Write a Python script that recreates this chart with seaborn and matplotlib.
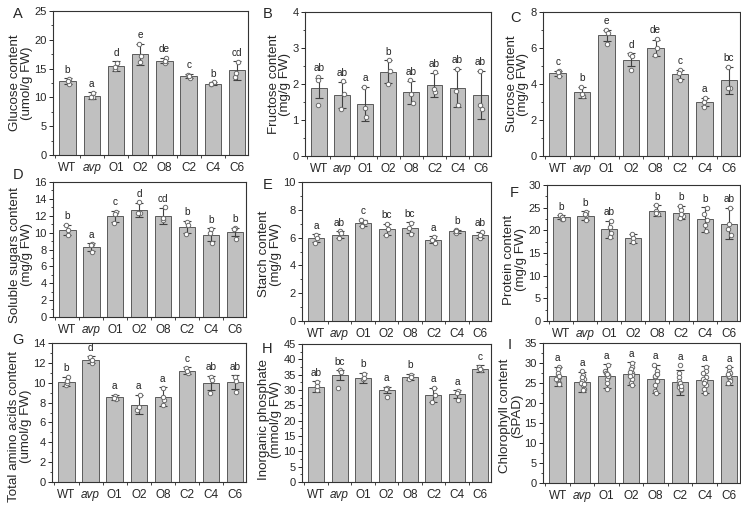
import matplotlib
matplotlib.use("Agg")
import matplotlib.pyplot as plt
import numpy as np
import pandas as pd
import seaborn as sns
from matplotlib.ticker import AutoMinorLocator, MultipleLocator

groups = ["WT", "avp", "O1", "O2", "O8", "C2", "C4", "C6"]

# panel A - glucose
glu_mean = [12.8, 10.3, 15.4, 17.5, 16.4, 13.7, 12.4, 14.7]
glu_sd = [0.5, 0.6, 0.9, 1.8, 0.5, 0.35, 0.2, 1.6]
glu_pts = [[13.2, 12.3, 12.9], [10.8, 10.0, 10.1], [16.0, 14.9, 15.3], [19.2, 16.2, 17.2],
           [16.9, 15.9, 16.4], [13.9, 13.4, 13.7], [12.6, 12.3, 12.3], [16.2, 13.6, 14.2]]
glu_sig = ["b", "a", "d", "e", "de", "c", "b", "cd"]

# panel B - fructose
fru_mean = [1.9, 1.7, 1.45, 2.34, 1.77, 1.98, 1.88, 1.7]
fru_sd = [0.28, 0.36, 0.47, 0.32, 0.32, 0.33, 0.53, 0.66]
fru_pts = [[2.2, 1.42, 2.1], [1.72, 1.3, 2.07], [1.08, 1.34, 1.93], [2.66, 2.37, 2.0],
           [1.72, 1.48, 2.1], [1.78, 1.85, 2.32], [1.8, 1.42, 2.42], [1.3, 1.42, 2.37]]
fru_sig = ["ab", "ab", "a", "b", "ab", "ab", "ab", "ab"]

# panel C - sucrose
suc_mean = [4.6, 3.55, 6.7, 5.35, 6.0, 4.55, 3.0, 4.2]
suc_sd = [0.15, 0.3, 0.3, 0.35, 0.45, 0.25, 0.2, 0.75]
suc_pts = [[4.7, 4.45, 4.65], [3.85, 3.35, 3.45], [7.0, 6.85, 6.2], [5.65, 5.55, 4.8],
           [6.5, 6.0, 5.6], [4.8, 4.6, 4.25], [3.25, 3.0, 2.7], [4.95, 3.8, 3.8]]
suc_sig = ["c", "b", "e", "d", "de", "c", "a", "bc"]

# panel D - soluble sugars
sol_mean = [10.35, 8.3, 11.95, 12.7, 12.0, 10.7, 9.75, 10.1]
sol_sd = [0.6, 0.45, 0.65, 0.85, 0.95, 0.7, 0.75, 0.5]
sol_pts = [[10.9, 9.7, 10.3], [8.7, 7.7, 8.5], [12.4, 11.2, 12.2], [13.6, 12.3, 12.3],
           [13.0, 11.5, 11.7], [11.3, 9.8, 10.9], [10.4, 8.8, 10.0], [10.6, 9.3, 10.4]]
sol_sig = ["b", "a", "c", "d", "cd", "b", "b", "b"]

# panel E - starch
sta_mean = [5.95, 6.2, 7.05, 6.6, 6.7, 5.85, 6.45, 6.2]
sta_sd = [0.3, 0.25, 0.25, 0.4, 0.4, 0.25, 0.12, 0.22]
sta_pts = [[6.2, 5.6, 5.95], [6.45, 5.95, 6.3], [7.3, 6.8, 7.1], [6.95, 6.2, 6.6],
           [7.05, 6.25, 6.7], [6.05, 5.6, 5.85], [6.55, 6.35, 6.45], [6.4, 5.95, 6.2]]
sta_sig = ["a", "ab", "c", "bc", "bc", "a", "b", "ab"]

# panel F - protein
pro_mean = [22.9, 23.2, 20.2, 18.2, 24.3, 23.9, 22.4, 21.5]
pro_sd = [0.5, 1.0, 1.9, 1.1, 1.2, 1.4, 2.7, 3.5]
pro_pts = [[23.3, 22.6, 22.8, 23.0, 22.5], [24.0, 23.3, 22.3, 23.5], [22.0, 20.7, 19.5, 18.6],
           [19.2, 18.3, 17.4], [25.6, 24.2, 23.5, 23.9], [25.4, 24.5, 23.2, 22.8, 23.6],
           [25.0, 23.6, 22.3, 21.2, 19.8], [25.0, 21.5, 20.3, 19.0]]
pro_sig = ["b", "b", "ab", "", "b", "b", "b", "ab"]

# panel G - total amino acids
ami_mean = [10.1, 12.3, 8.55, 7.8, 8.6, 11.2, 10.0, 10.05]
ami_sd = [0.45, 0.35, 0.25, 1.0, 0.95, 0.35, 0.7, 0.7]
ami_pts = [[10.6, 9.8, 10.0, 10.2], [12.6, 12.0, 12.3], [8.7, 8.4, 8.5], [8.8, 7.3, 7.6],
           [9.5, 7.8, 8.3, 8.6], [11.5, 11.0, 11.2], [10.6, 9.0, 10.3], [10.6, 9.1, 10.2]]
ami_sig = ["b", "d", "a", "a", "a", "c", "ab", "ab"]

# panel H - inorganic phosphate
pho_mean = [31.0, 34.9, 34.0, 30.0, 34.2, 28.4, 28.7, 37.0]
pho_sd = [1.8, 1.6, 1.7, 1.1, 1.1, 2.4, 1.3, 1.0]
pho_pts = [[32.5, 30.0, 31.2], [36.4, 30.6, 36.0], [35.3, 33.5, 33.8], [30.5, 27.8, 30.2],
           [35.0, 33.5, 34.3], [30.5, 26.0, 28.5], [29.6, 26.9, 29.0], [37.6, 36.6, 37.0]]
pho_sig = ["ab", "bc", "b", "a", "b", "a", "a", "c"]

# panel I - chlorophyll (SPAD)
chl_mean = [26.7, 25.2, 26.7, 27.3, 26.0, 25.2, 25.8, 26.7]
chl_sd = [2.4, 2.5, 3.0, 2.9, 3.6, 3.1, 3.4, 2.3]
chl_pts = [[29.0, 28.5, 27.0, 26.5, 25.5, 25.0, 24.8, 26.0, 27.5, 26.8],
           [28.0, 27.0, 26.0, 25.5, 24.5, 23.5, 23.2, 25.0, 24.8, 26.5],
           [29.5, 28.0, 27.5, 26.5, 26.0, 25.0, 23.6, 27.0, 26.8, 27.2],
           [30.0, 29.0, 28.5, 27.5, 27.0, 26.0, 25.0, 24.5, 27.8, 26.8],
           [29.5, 28.0, 27.0, 26.5, 25.5, 24.5, 23.0, 22.5, 26.8, 27.2],
           [29.4, 27.5, 26.5, 25.5, 24.5, 24.0, 23.2, 23.5, 25.0, 24.2],
           [29.0, 28.0, 27.5, 26.5, 26.0, 25.5, 24.5, 23.5, 22.4, 25.0],
           [29.0, 28.0, 27.5, 27.0, 26.5, 26.0, 25.5, 25.0, 26.8, 27.2]]
chl_sig = ["a"] * 8

panels = [
    ("A", "Glucose content\n(umol/g FW)", glu_mean, glu_sd, glu_pts, glu_sig, 25, 5),
    ("B", "Fructose content\n(mg/g FW)", fru_mean, fru_sd, fru_pts, fru_sig, 4, 1),
    ("C", "Sucrose content\n(mg/g FW)", suc_mean, suc_sd, suc_pts, suc_sig, 8, 2),
    ("D", "Soluble sugars content\n(mg/g FW)", sol_mean, sol_sd, sol_pts, sol_sig, 16, 2),
    ("E", "Starch content\n(mg/g FW)", sta_mean, sta_sd, sta_pts, sta_sig, 10, 2),
    ("F", "Protein content\n(mg/g FW)", pro_mean, pro_sd, pro_pts, pro_sig, 30, 5),
    ("G", "Total amino acids content\n(umol/g FW)", ami_mean, ami_sd, ami_pts, ami_sig, 14, 2),
    ("H", "Inorganic phosphate\n(mmol/g FW)", pho_mean, pho_sd, pho_pts, pho_sig, 45, 5),
    ("I", "Chlorophyll content\n(SPAD)", chl_mean, chl_sd, chl_pts, chl_sig, 35, 5),
]

# axes boxes in pixels: left, top, right, bottom
boxes = [(53, 11, 248, 155), (305, 12, 491, 156), (543, 12, 740, 156),
         (53, 182, 246, 317), (302, 182, 491, 321), (547, 185, 740, 321),
         (52, 343, 246, 482), (302, 344, 491, 482), (543, 343, 740, 483)]
# panel letter positions in pixels
letter_xy = [(13, 14), (263, 14), (510, 18), (13, 175), (263, 185), (510, 193),
             (12, 340), (262, 349), (508, 345)]
# vertical centre of y label (axes fraction)
label_y = [0.5, 0.5, 0.5, 0.46, 0.48, 0.45, 0.4, 0.45, 0.48]

sns.set_style("ticks")
plt.rcParams["font.family"] = ["Liberation Sans", "DejaVu Sans"]
plt.rcParams["axes.linewidth"] = 0.8

W, H = 741, 512
fig = plt.figure(figsize=(W / 100, H / 100), dpi=100)

for k, ((letter, ylabel, mean, sd, pts, sig, ymax, step), (l, t, r, b)) in enumerate(zip(panels, boxes)):
    ax = fig.add_axes([l / W, 1 - b / H, (r - l) / W, (b - t) / H])
    bar_df = pd.DataFrame({"group": groups, "value": mean})
    sns.barplot(data=bar_df, x="group", y="value", order=groups, color="#c0c0c0",
                saturation=1, width=0.68, edgecolor="#5a5a5a", linewidth=0.7,
                errorbar=None, ax=ax)
    ax.errorbar(range(len(groups)), mean, yerr=sd, fmt="none", ecolor="#404040",
                elinewidth=0.8, capsize=3, capthick=0.8, zorder=3)
    pt_df = pd.DataFrame({"group": [g for g, p in zip(groups, pts) for _ in p],
                          "value": [v for p in pts for v in p]})
    sns.stripplot(data=pt_df, x="group", y="value", order=groups, jitter=0.07,
                  color="white", edgecolor="#6a6a6a", linewidth=0.7, size=3.2,
                  ax=ax, zorder=4)
    for i, s in enumerate(sig):
        top = max(mean[i] + sd[i], max(pts[i]))
        ax.text(i, top + ymax * 0.025, s, ha="center", va="bottom", fontsize=7.2,
                color="#222222")
    ax.set_ylim(0, ymax)
    ax.set_xlim(-0.6, 7.45)
    ax.yaxis.set_major_locator(MultipleLocator(step))
    ax.yaxis.set_minor_locator(AutoMinorLocator(2))
    ax.xaxis.set_minor_locator(MultipleLocator(1, offset=0.5))
    ax.tick_params(axis="x", which="major", length=0, labelsize=8.5, pad=5)
    ax.tick_params(axis="x", which="minor", length=2.5, width=0.6)
    ax.tick_params(axis="y", which="major", length=3, width=0.7, labelsize=8, pad=1.5)
    ax.tick_params(axis="y", which="minor", length=1.8, width=0.6)
    for sp in ax.spines.values():
        sp.set_visible(True)
        sp.set_color("#333333")
    ax.get_xticklabels()[1].set_fontstyle("italic")
    ax.set_xlabel("")
    ax.set_ylabel(ylabel, fontsize=9.6, linespacing=0.95, labelpad=1)
    ax.yaxis.label.set_y(label_y[k])
    lx, ly = letter_xy[k]
    fig.text(lx / W, 1 - ly / H, letter, fontsize=10.5, ha="left", va="center")

fig.savefig("out.png", dpi=100)
